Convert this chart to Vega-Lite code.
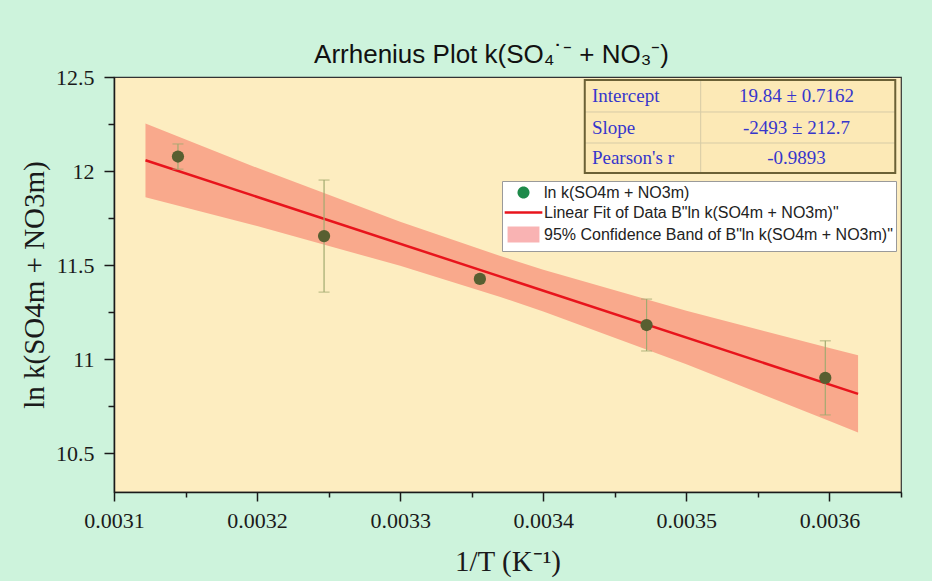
{
  "$schema": "https://vega.github.io/schema/vega-lite/v6.json",
  "width": 787,
  "height": 415,
  "autosize": {"type": "none"},
  "padding": {"left": 114, "top": 77, "right": 31, "bottom": 89},
  "background": "#cdf3dc",
  "view": {"fill": "#fdedc0", "stroke": "#333333", "strokeWidth": 1.2},
  "title": {"text": "Arrhenius Plot k(SO₄˙⁻ + NO₃⁻)", "font": "Liberation Sans", "fontSize": 26, "fontWeight": "normal", "color": "#111111", "anchor": "middle", "dx": -16, "offset": -2},
  "config": {
    "view": {"fill": "#fdedc0", "stroke": "#333333", "strokeWidth": 1.2},
    "axis": {"grid": false, "labelFont": "Liberation Serif", "labelFontSize": 22, "labelColor": "#1a1a1a", "titleFont": "Liberation Serif", "titleFontWeight": "normal", "titleColor": "#1a1a1a", "domainColor": "#1a1a1a", "domainWidth": 1.5, "tickColor": "#1a1a1a", "tickWidth": 1.5, "labelOverlap": false, "labelFlush": false}
  },
  "resolve": {"axis": {"x": "independent", "y": "independent"}},
  "datasets": {
    "obs": [
      {"invT": 0.0031447, "lnk": 12.077, "err": 0.067},
      {"invT": 0.0032468, "lnk": 11.654, "err": 0.298},
      {"invT": 0.0033557, "lnk": 11.426, "err": 0.02},
      {"invT": 0.0034722, "lnk": 11.181, "err": 0.138},
      {"invT": 0.0035971, "lnk": 10.9, "err": 0.197}
    ],
    "fit": [
      {"x": 0.003122, "y": 12.057},
      {"x": 0.00362, "y": 10.815}
    ],
    "band": [
      {"x": 0.003122, "hi": 12.253, "lo": 11.861},
      {"x": 0.0032, "hi": 12.017, "lo": 11.707},
      {"x": 0.0033, "hi": 11.73, "lo": 11.496},
      {"x": 0.00337, "hi": 11.548, "lo": 11.33},
      {"x": 0.0034, "hi": 11.475, "lo": 11.253},
      {"x": 0.0035, "hi": 11.257, "lo": 10.972},
      {"x": 0.0036, "hi": 11.059, "lo": 10.671},
      {"x": 0.00362, "hi": 11.02, "lo": 10.61}
    ],
    "stats": [
      {"param": "Intercept", "value": "19.84 ± 0.7162"},
      {"param": "Slope", "value": "-2493 ± 212.7"},
      {"param": "Pearson's r", "value": "-0.9893"}
    ],
    "legend": [
      {"series": "ln k(SO4m + NO3m)"},
      {"series": "Linear Fit of Data B\"ln k(SO4m + NO3m)\""},
      {"series": "95% Confidence Band of B\"ln k(SO4m + NO3m)\""}
    ]
  },
  "layer": [
    {
      "data": {"name": "band"},
      "mark": {"type": "area", "color": "#f9a98c", "opacity": 1},
      "encoding": {
        "x": {"field": "x", "type": "quantitative", "scale": {"domain": [0.0031, 0.00365], "nice": false, "zero": false},
          "axis": {"orient": "bottom", "values": [0.0031, 0.0032, 0.0033, 0.0034, 0.0035, 0.0036], "format": "~g",
            "tickSize": 9, "labelPadding": 9, "title": "1/T (K⁻¹)", "titleFontSize": 29, "titlePadding": 16}},
        "y": {"field": "hi", "type": "quantitative", "scale": {"domain": [10.293, 12.5], "nice": false, "zero": false},
          "axis": {"orient": "left", "values": [10.5, 11, 11.5, 12, 12.5], "format": "~g",
            "tickSize": 10, "labelPadding": 10, "title": "ln k(SO4m + NO3m)", "titleFontSize": 29, "titlePadding": 6}},
        "y2": {"field": "lo"}
      }
    },
    {
      "data": {"name": "fit"},
      "mark": {"type": "line", "color": "#e8141c", "strokeWidth": 2.5},
      "encoding": {
        "x": {"field": "x", "type": "quantitative",
          "axis": {"orient": "bottom", "values": [0.00315, 0.00325, 0.00335, 0.00345, 0.00355, 0.00365], "labels": false, "domain": false, "tickSize": 5, "title": null}},
        "y": {"field": "y", "type": "quantitative",
          "axis": {"orient": "left", "values": [10.75, 11.25, 11.75, 12.25], "labels": false, "domain": false, "tickSize": 6, "title": null}}
      }
    },
    {
      "data": {"name": "obs"},
      "mark": {"type": "errorbar", "color": "#a2aa70", "thickness": 1.2, "ticks": {"size": 11, "thickness": 1.2, "color": "#a2aa70"}},
      "encoding": {
        "x": {"field": "invT", "type": "quantitative", "axis": null},
        "y": {"field": "lnk", "type": "quantitative", "axis": null},
        "yError": {"field": "err"}
      }
    },
    {
      "data": {"name": "obs"},
      "mark": {"type": "point", "filled": true, "size": 150, "color": "#585f31", "opacity": 1},
      "encoding": {
        "x": {"field": "invT", "type": "quantitative", "axis": null},
        "y": {"field": "lnk", "type": "quantitative", "axis": null}
      }
    },
    {
      "data": {"values": [{}]},
      "mark": {"type": "rect", "fill": "#fce9b6"},
      "encoding": {
        "x": {"datum": 0.003429, "type": "quantitative", "axis": null},
        "x2": {"datum": 0.003646},
        "y": {"datum": 12.484, "type": "quantitative", "axis": null},
        "y2": {"datum": 11.989}
      }
    },
    {
      "data": {"values": [{"r": 12.314}, {"r": 12.149}]},
      "mark": {"type": "rule", "color": "#d6cba6", "strokeWidth": 1},
      "encoding": {
        "x": {"datum": 0.003429, "type": "quantitative", "axis": null},
        "x2": {"datum": 0.003646},
        "y": {"field": "r", "type": "quantitative", "axis": null}
      }
    },
    {
      "data": {"values": [{}]},
      "mark": {"type": "rule", "color": "#d6cba6", "strokeWidth": 1},
      "encoding": {
        "x": {"datum": 0.00351, "type": "quantitative", "axis": null},
        "y": {"datum": 12.484, "type": "quantitative", "axis": null},
        "y2": {"datum": 11.989}
      }
    },
    {
      "data": {"values": [{}]},
      "mark": {"type": "rect", "fillOpacity": 0, "stroke": "#6b6136", "strokeWidth": 2},
      "encoding": {
        "x": {"datum": 0.003429, "type": "quantitative", "axis": null},
        "x2": {"datum": 0.003646},
        "y": {"datum": 12.484, "type": "quantitative", "axis": null},
        "y2": {"datum": 11.989}
      }
    },
    {
      "data": {"name": "stats"},
      "transform": [{"filter": "datum.param == 'Intercept'"}],
      "mark": {"type": "text", "align": "left", "baseline": "middle", "font": "Liberation Serif", "fontSize": 19, "color": "#3636cc"},
      "encoding": {"x": {"datum": 0.003434, "type": "quantitative", "axis": null}, "y": {"datum": 12.399, "type": "quantitative", "axis": null}, "text": {"field": "param"}}
    },
    {
      "data": {"name": "stats"},
      "transform": [{"filter": "datum.param == 'Slope'"}],
      "mark": {"type": "text", "align": "left", "baseline": "middle", "font": "Liberation Serif", "fontSize": 19, "color": "#3636cc"},
      "encoding": {"x": {"datum": 0.003434, "type": "quantitative", "axis": null}, "y": {"datum": 12.231, "type": "quantitative", "axis": null}, "text": {"field": "param"}}
    },
    {
      "data": {"name": "stats"},
      "transform": [{"filter": "datum.param == \"Pearson's r\""}],
      "mark": {"type": "text", "align": "left", "baseline": "middle", "font": "Liberation Serif", "fontSize": 19, "color": "#3636cc"},
      "encoding": {"x": {"datum": 0.003434, "type": "quantitative", "axis": null}, "y": {"datum": 12.069, "type": "quantitative", "axis": null}, "text": {"field": "param"}}
    },
    {
      "data": {"name": "stats"},
      "transform": [{"filter": "datum.param == 'Intercept'"}],
      "mark": {"type": "text", "align": "center", "baseline": "middle", "font": "Liberation Serif", "fontSize": 19, "color": "#3636cc"},
      "encoding": {"x": {"datum": 0.003577, "type": "quantitative", "axis": null}, "y": {"datum": 12.399, "type": "quantitative", "axis": null}, "text": {"field": "value"}}
    },
    {
      "data": {"name": "stats"},
      "transform": [{"filter": "datum.param == 'Slope'"}],
      "mark": {"type": "text", "align": "center", "baseline": "middle", "font": "Liberation Serif", "fontSize": 19, "color": "#3636cc"},
      "encoding": {"x": {"datum": 0.003577, "type": "quantitative", "axis": null}, "y": {"datum": 12.231, "type": "quantitative", "axis": null}, "text": {"field": "value"}}
    },
    {
      "data": {"name": "stats"},
      "transform": [{"filter": "datum.param == \"Pearson's r\""}],
      "mark": {"type": "text", "align": "center", "baseline": "middle", "font": "Liberation Serif", "fontSize": 19, "color": "#3636cc"},
      "encoding": {"x": {"datum": 0.003577, "type": "quantitative", "axis": null}, "y": {"datum": 12.069, "type": "quantitative", "axis": null}, "text": {"field": "value"}}
    },
    {
      "data": {"name": "legend"},
      "mark": {"type": "point", "filled": true, "opacity": 0, "strokeWidth": 2.5, "size": 210},
      "encoding": {
        "fill": {"field": "series", "type": "nominal",
          "scale": {"domain": ["ln k(SO4m + NO3m)", "Linear Fit of Data B\"ln k(SO4m + NO3m)\"", "95% Confidence Band of B\"ln k(SO4m + NO3m)\""], "range": ["#1e8a4a", "transparent", "#f9b3b3"]},
          "legend": {"orient": "none", "legendX": 388, "legendY": 104, "title": null, "fillColor": "#ffffff", "strokeColor": "#9a9a9a", "padding": 3, "labelFont": "Liberation Sans", "labelFontSize": 16, "labelColor": "#222222", "labelLimit": 600, "labelOffset": 12, "symbolOffset": 10, "rowPadding": 0, "symbolSize": 210, "symbolStrokeWidth": 2.5, "symbolOpacity": 1, "encode": {"symbols": {"update": {"opacity": {"value": 1}}}}}},
        "stroke": {"field": "series", "type": "nominal",
          "scale": {"domain": ["ln k(SO4m + NO3m)", "Linear Fit of Data B\"ln k(SO4m + NO3m)\"", "95% Confidence Band of B\"ln k(SO4m + NO3m)\""], "range": ["transparent", "#e8141c", "transparent"]},
          "legend": {"orient": "none", "legendX": 388, "legendY": 104, "title": null}},
        "shape": {"field": "series", "type": "nominal",
          "scale": {"domain": ["ln k(SO4m + NO3m)", "Linear Fit of Data B\"ln k(SO4m + NO3m)\"", "95% Confidence Band of B\"ln k(SO4m + NO3m)\""], "range": ["M-0.83,0A0.83,0.83,0,1,0,0.83,0A0.83,0.83,0,1,0,-0.83,0Z", "M-2.6,0H2.6", "M-2.2,-1.1H2.2V1.1H-2.2Z"]},
          "legend": {"orient": "none", "legendX": 388, "legendY": 104, "title": null}}
      }
    }
  ]
}
